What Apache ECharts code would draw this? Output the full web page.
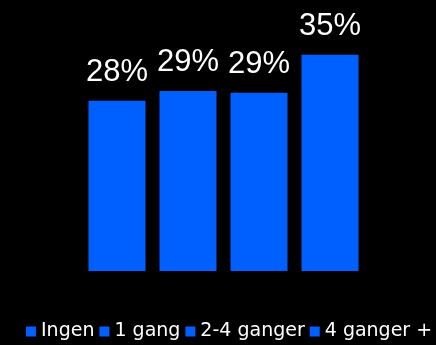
<!DOCTYPE html>
<html>
<head>
<meta charset="utf-8">
<script src="https://cdn.jsdelivr.net/npm/echarts@6/dist/echarts.min.js"></script>
<style>
html,body{margin:0;padding:0;background:#000;}
#chart{width:436px;height:345px;}
</style>
</head>
<body>
<div id="chart"></div>
<script>
const categories = ['Ingen', '1 gang', '2-4 ganger', '4 ganger +'];
const values = [27.8, 29.4, 29.1, 35.3];
const barColor = '#0060ff';

const series = categories.map(function (name, i) {
  return {
    name: name,
    type: 'bar',
    stack: 'all',
    barWidth: 57,
    itemStyle: { color: barColor },
    label: {
      show: true,
      position: 'top',
      distance: 13,
      color: '#ffffff',
      fontWeight: 'normal',
      textBorderWidth: 0,
      fontFamily: 'Liberation Sans, Arial, sans-serif',
      fontSize: 31,
      formatter: function (p) { return Math.round(p.value) + '%'; }
    },
    data: values.map(function (v, j) { return j === i ? v : '-'; })
  };
});

const chart = echarts.init(document.getElementById('chart'));
chart.setOption({
  animation: false,
  backgroundColor: '#000000',
  grid: { left: 81.5, right: 70.5, top: 26, bottom: 74 },
  xAxis: { type: 'category', data: categories, show: false },
  yAxis: { type: 'value', min: 0, max: 40, show: false },
  legend: {
    data: categories,
    left: 26,
    top: 322,
    padding: 0,
    itemGap: 5,
    itemWidth: 10,
    itemHeight: 10,
    icon: 'rect',
    textStyle: { color: '#ffffff', fontWeight: 'normal', fontFamily: 'DejaVu Sans, sans-serif', fontSize: 19 }
  },
  series: series
});
</script>
</body>
</html>
